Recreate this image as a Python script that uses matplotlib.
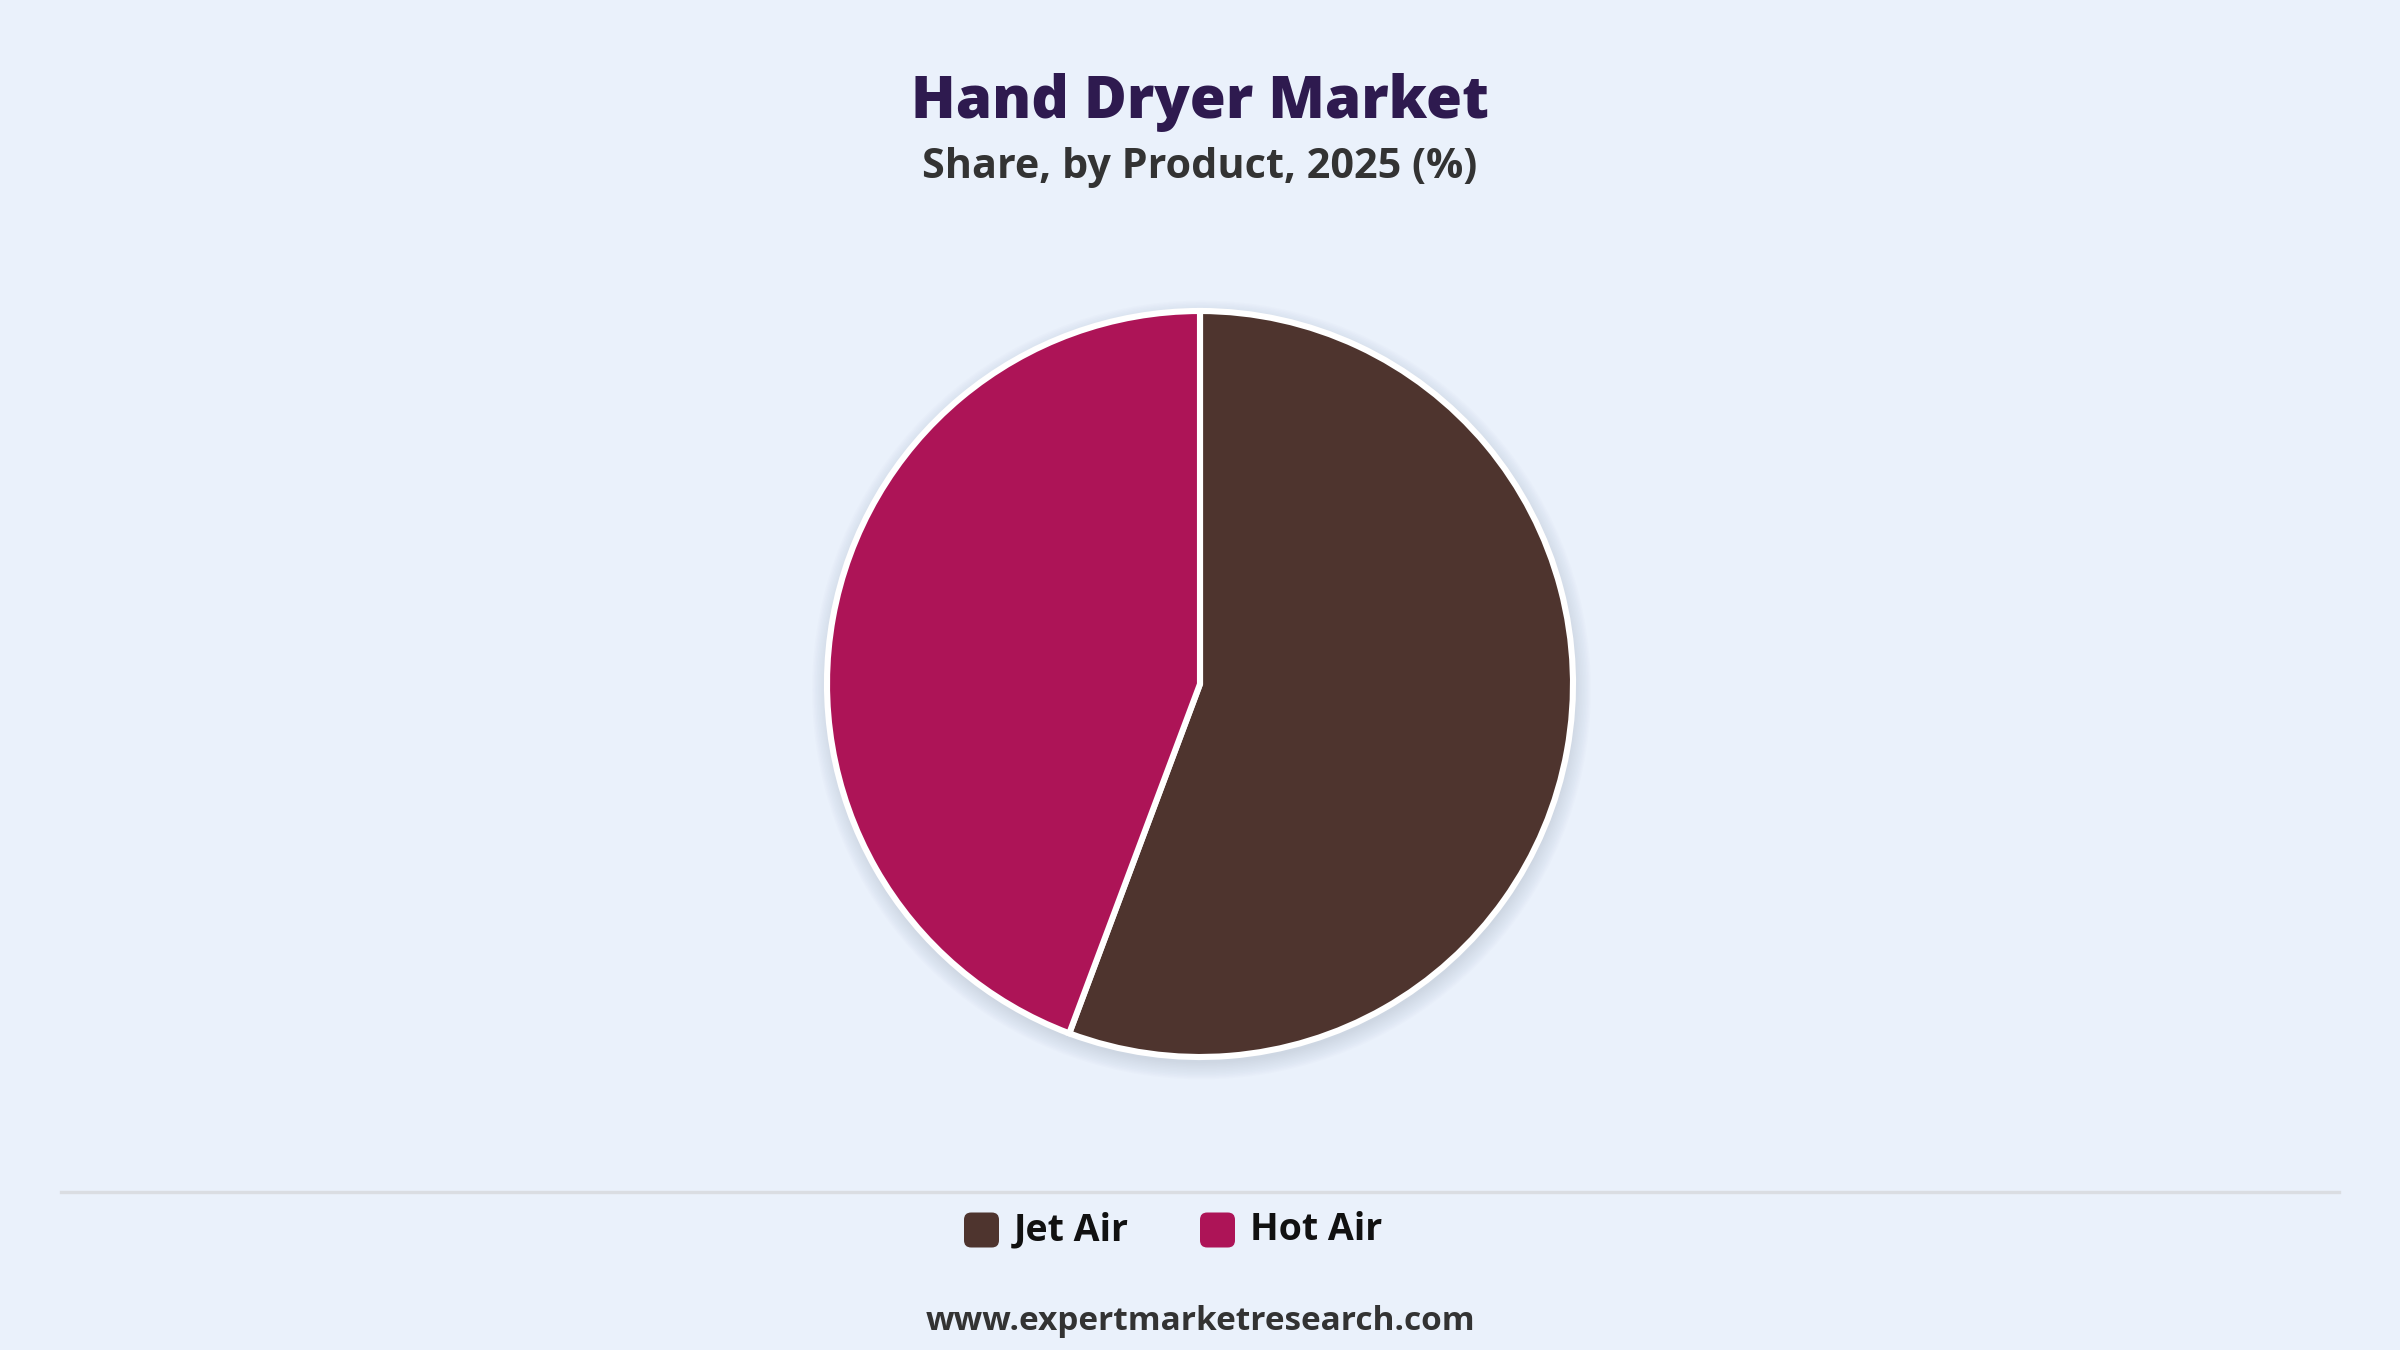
import matplotlib.pyplot as plt
from matplotlib.patches import FancyBboxPatch, Circle
from matplotlib.lines import Line2D

# data
products = ['Jet Air', 'Hot Air']
shares = [55.7, 44.3]
slice_colors = ['#4E342E', '#AD1457']

W, H = 2400, 1350
bg = '#EAF1FB'

fig = plt.figure(figsize=(12, 6.75), dpi=200)
fig.patch.set_facecolor(bg)

# titles
fig.text(0.5, 1 - 103 / H, 'Hand Dryer Market', ha='center', va='center',
         fontsize=21.0, fontweight='heavy', color='#2E1A4F', family='Open Sans')
fig.text(0.5, 1 - 167 / H, 'Share, by Product, 2025 (%)', ha='center', va='center',
         fontsize=14.9, fontweight='bold', color='#333333', family='Open Sans')

# pie axes, sized so radius 1 = R_px pixels
cx, cy, R_px, pad = 1200, 684, 373, 1.15
side = 2 * R_px * pad
ax = fig.add_axes([(cx - R_px * pad) / W, (H - cy - R_px * pad) / H, side / W, side / H])
ax.set_xlim(-pad, pad)
ax.set_ylim(-pad, pad)
ax.axis('off')

# soft shadow, mostly below the pie
for k in range(12):
    ax.add_patch(Circle((0.004, -0.016), 1.0 + k * 0.004, color='#8a96a6',
                        alpha=0.025, lw=0, zorder=0))

ax.pie(shares, colors=slice_colors, startangle=90, counterclock=False, radius=1,
       wedgeprops=dict(edgecolor='white', linewidth=2.2), frame=False)
ax.set_xlim(-pad, pad)
ax.set_ylim(-pad, pad)

# separator line
fig.add_artist(Line2D([61 / W, 2339 / W], [1 - 1192 / H] * 2, color='#DADDE2', lw=1.2))

# legend
leg_y = 1 - 1230 / H
sq = 35
x_starts = [964, 1200]
for name, col, x0 in zip(products, slice_colors, x_starts):
    fig.add_artist(FancyBboxPatch((x0 / W, leg_y - sq / 2 / H), sq / W, sq / H,
                                  boxstyle='round,pad=0,rounding_size=0.003',
                                  transform=fig.transFigure, facecolor=col,
                                  edgecolor='none', mutation_aspect=W / H))
    fig.text((x0 + sq + 15) / W, leg_y, name, ha='left', va='center',
             fontsize=13.5, fontweight='bold', color='#111111', family='Open Sans')

fig.text(0.5, 1 - 1321 / H, 'www.expertmarketresearch.com', ha='center', va='center',
         fontsize=12, fontweight='bold', color='#333333', family='Open Sans')

fig.savefig('out.png', dpi=200, facecolor=bg)
